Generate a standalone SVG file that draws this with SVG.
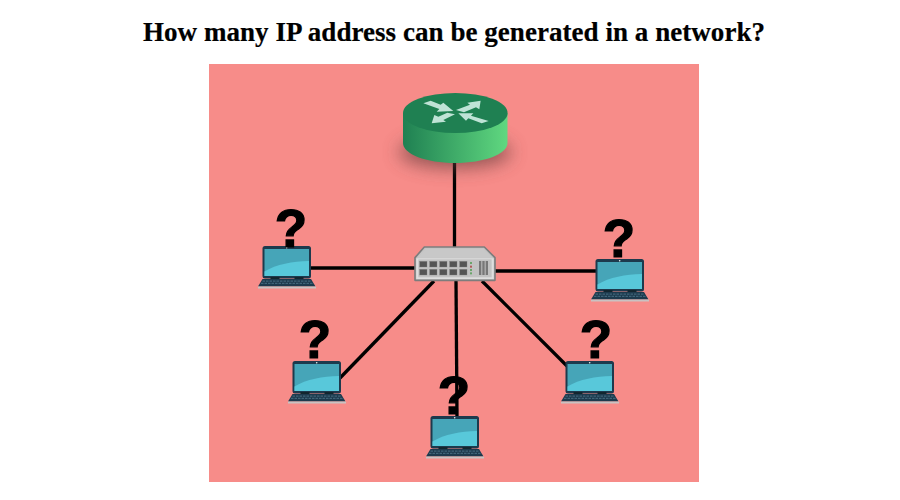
<svg xmlns="http://www.w3.org/2000/svg" width="900" height="500" viewBox="0 0 900 500">
<style>
.link{stroke:#000;stroke-width:3.300;fill:none}
.q{font-family:"Liberation Sans",sans-serif;font-weight:700;font-size:53px;text-anchor:middle;fill:#000;stroke:#000;stroke-width:1.200}
.arrow{fill:#bfe3d6}
.port{fill:#555;stroke:#808080;stroke-width:1}
</style>
<defs>
<linearGradient id="side" x1="0" x2="1" y1="0" y2="0"><stop offset="0" stop-color="#1f8052"/><stop offset="1" stop-color="#60d880"/></linearGradient>
<filter id="blur" x="-40%" y="-100%" width="180%" height="300%"><feGaussianBlur stdDeviation="9"/></filter>
<g id="laptop">
<rect x="0" y="0" width="48.500" height="32.500" rx="2.500" fill="#1d3a4d"/>
<rect x="2" y="3" width="44.500" height="27" fill="#46a5b8"/>
<path d="M2 30V25.500C14 18 30 15.500 46.500 15V30Z" fill="#58c8da"/>
<circle cx="24.200" cy="1.700" r=".8" fill="#e8f0f0"/>
<rect x="8" y="31" width="9" height="2.500" fill="#12262f"/>
<rect x="32" y="31" width="9" height="2.500" fill="#12262f"/>
<path d="M0 33H48.500L53 40.500H-4.500Z" fill="#1d3a4d"/>
<path d="M0 35.200H48.500M-1.500 37.400H50" stroke="#3f6478" stroke-width="1.200" stroke-dasharray="2.500 1" fill="none"/>
<rect x="-4.500" y="40.500" width="58" height="2" fill="#c9c2c2"/>
</g>
</defs>
<rect width="900" height="500" fill="#fff"/>
<text id="title" x="454" y="41" font-family="'Liberation Serif',serif" font-weight="700" font-size="27" text-anchor="middle" textLength="622" lengthAdjust="spacing" fill="#000" stroke="#000" stroke-width=".2">How many IP address can be generated in a network?</text>
<rect id="panel" x="209" y="64" width="490" height="418" fill="#f78c89"/>
<g id="connectors">
<line class="link" x1="454.500" y1="160" x2="454.500" y2="250"/>
<line class="link" x1="310" y1="268" x2="416" y2="268"/>
<line class="link" x1="495" y1="271" x2="597" y2="271"/>
<line class="link" x1="434" y1="281" x2="340" y2="378"/>
<line class="link" x1="456" y1="281" x2="457" y2="416"/>
<line class="link" x1="482" y1="281" x2="567" y2="366"/>
</g>
<g id="router">
<ellipse cx="455" cy="152" rx="56" ry="16" fill="#6a3c3c" opacity=".7" filter="url(#blur)"/>
<path d="M403 113V143C403 154 426 163 455 163S507.500 154 507.500 143V113Z" fill="url(#side)"/>
<ellipse cx="455.300" cy="113" rx="52.300" ry="20" fill="#1f8052"/>
<g transform="translate(390 80) scale(.3333)">
<polygon class="arrow" points="100,70 122,62 152,74 160,68 190,93 140,95 148,87"/>
<polygon class="arrow" points="272,62 268,88 258,82 222,97 198,90 240,74 232,68"/>
<polygon class="arrow" points="125,130 133,105 145,110 172,98 195,103 160,120 168,125"/>
<polygon class="arrow" points="205,100 250,100 243,107 296,123 275,130 235,115 228,122"/>
</g>
</g>
<g id="switch" transform="translate(405 235) scale(.3333)">
<path d="M30 68L58 36H238L270 68V136H30Z" fill="#c4c4c4" stroke="#7d7d7d" stroke-width="5" stroke-linejoin="round"/>
<path d="M38 68L62 42H235L262 68Z" fill="#c8c8c8"/>
<rect x="34" y="70" width="232" height="62" fill="#dedede"/>
<rect x="40" y="73" width="220" height="54" fill="#c2c2c2"/>
<g>
<rect class="port" x="44" y="79" width="22" height="17"/><rect class="port" x="74" y="79" width="22" height="17"/><rect class="port" x="104" y="79" width="22" height="17"/><rect class="port" x="134" y="79" width="22" height="17"/><rect class="port" x="164" y="79" width="22" height="17"/>
<rect class="port" x="44" y="103" width="22" height="17"/><rect class="port" x="74" y="103" width="22" height="17"/><rect class="port" x="104" y="103" width="22" height="17"/><rect class="port" x="134" y="103" width="22" height="17"/><rect class="port" x="164" y="103" width="22" height="17"/>
</g>
<rect x="195" y="81" width="6" height="6" fill="#6aa56a"/><rect x="195" y="92" width="6" height="6" fill="#b05a5a"/><rect x="195" y="102" width="6" height="6" fill="#6aa56a"/><rect x="195" y="112" width="6" height="6" fill="#6aa56a"/>
<rect x="222" y="78" width="7" height="42" fill="#777"/><rect x="232" y="78" width="7" height="42" fill="#777"/><rect x="242" y="78" width="7" height="42" fill="#777"/>
</g>
<g id="pc1"><use href="#laptop" x="262.500" y="246"/><text class="q" x="291" y="247">?</text></g>
<g id="pc2"><use href="#laptop" x="595.500" y="259"/><text class="q" x="619" y="257">?</text></g>
<g id="pc3"><use href="#laptop" x="292.500" y="361"/><text class="q" x="315" y="358">?</text></g>
<g id="pc4"><use href="#laptop" x="565.500" y="361"/><text class="q" x="596" y="358">?</text></g>
<g id="pc5"><use href="#laptop" x="430.500" y="416"/><text class="q" x="454" y="414">?</text></g>
</svg>
